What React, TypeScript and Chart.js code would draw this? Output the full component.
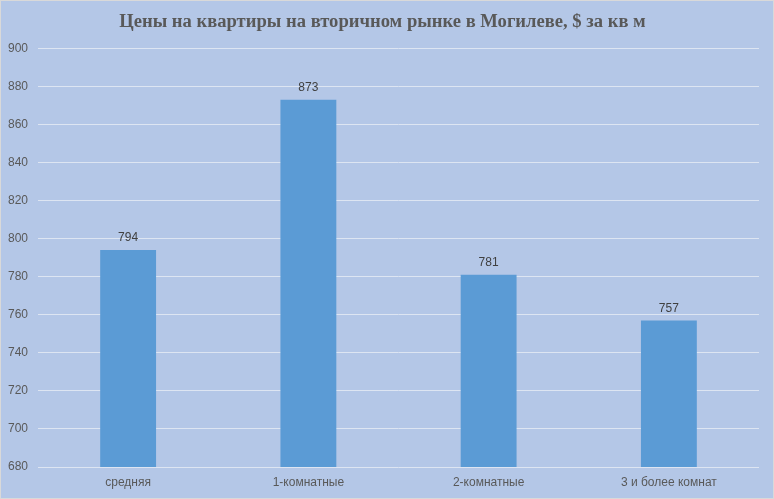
import React, { useEffect, useRef } from "react";
import { Chart, registerables } from "chart.js";

Chart.register(...registerables);

const categories = ["средняя", "1-комнатные", "2-комнатные", "3 и более комнат"];
const prices = [794, 873, 781, 757];
const yMin = 680;
const yMax = 900;
const yStep = 20;
const titleText = "Цены на квартиры на вторичном рынке в Могилеве, $ за кв м";

const labelFont = "'Liberation Sans Narrow', 'Arial Narrow', 'Liberation Sans', sans-serif";

const valueLabels = {
  id: "valueLabels",
  afterDatasetsDraw(chart: any) {
    const ctx = chart.ctx;
    const meta = chart.getDatasetMeta(0);
    ctx.save();
    ctx.font = `12px ${labelFont}`;
    ctx.fillStyle = "#404040";
    ctx.textAlign = "center";
    ctx.textBaseline = "bottom";
    meta.data.forEach((bar: any, i: number) => {
      ctx.fillText(String(prices[i]), bar.x, bar.y - 6);
    });
    ctx.restore();
  },
};

const background = {
  id: "bg",
  beforeDraw(chart: any) {
    const ctx = chart.ctx;
    ctx.save();
    ctx.fillStyle = "#B4C7E7";
    ctx.fillRect(0, 0, chart.width, chart.height);
    ctx.strokeStyle = "#D9D9D9";
    ctx.lineWidth = 1;
    ctx.strokeRect(0.5, 0.5, chart.width - 1, chart.height - 1);
    ctx.restore();
  },
};

export default function App() {
  const ref = useRef<HTMLCanvasElement>(null);
  useEffect(() => {
    if (!ref.current) return;
    const chart = new Chart(ref.current, {
      type: "bar",
      data: {
        labels: categories,
        datasets: [
          {
            data: prices,
            backgroundColor: "#5B9BD5",
            barPercentage: 0.31,
            categoryPercentage: 1,
          },
        ],
      },
      options: {
        animation: false,
        responsive: false,
        maintainAspectRatio: false,
        layout: { padding: { left: 6, right: 15, top: 0, bottom: 0 } },
        plugins: {
          legend: { display: false },
          tooltip: { enabled: false },
          title: {
            display: true,
            text: titleText,
            color: "#595959",
            font: { family: "'Liberation Serif', 'DejaVu Serif', serif", size: 18.6, weight: "bold", lineHeight: 1.2 },
            padding: { top: 11, bottom: 15 },
          },
        },
        scales: {
          x: {
            grid: { display: false, drawTicks: false },
            border: { display: false },
            ticks: { color: "#595959", font: { family: labelFont, size: 12 }, padding: 8 },
            afterFit(scale: any) {
              scale.height = 32;
            },
          },
          y: {
            min: yMin,
            max: yMax,
            grid: { color: "#DDE5F2", drawTicks: false, lineWidth: 1 },
            border: { display: false },
            ticks: { stepSize: yStep, color: "#595959", font: { family: labelFont, size: 12 }, padding: 10 },
            afterFit(scale: any) {
              scale.width = 32;
            },
          },
        },
      },
      plugins: [background, valueLabels],
    } as any);
    return () => chart.destroy();
  }, []);
  return (
    <div style={{ position: "fixed", left: 0, top: 0, width: 774, height: 499 }}>
      <canvas ref={ref} width={774} height={499} style={{ display: "block" }} />
    </div>
  );
}
